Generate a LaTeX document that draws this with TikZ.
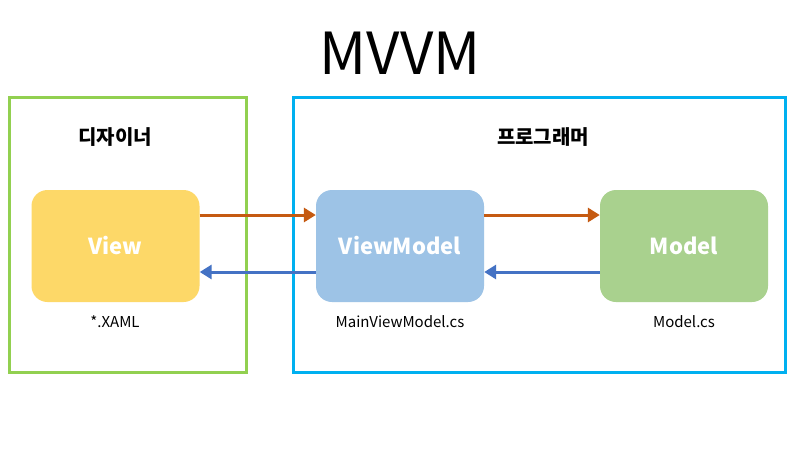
\documentclass[tikz,border=0pt]{standalone}
\usepackage{fontspec}
\setmainfont{Noto Sans CJK KR}
\usetikzlibrary{arrows.meta}
\definecolor{viewc}{HTML}{FDD868}
\definecolor{vmc}{HTML}{9DC3E6}
\definecolor{modc}{HTML}{A9D18E}
\definecolor{arrO}{HTML}{C55A11}
\definecolor{arrB}{HTML}{4472C4}
\definecolor{frameG}{HTML}{92D050}
\definecolor{frameB}{HTML}{00B0F0}
\tikzset{
  comp/.style={rounded corners=16pt, minimum width=168pt, minimum height=112pt, inner sep=0pt, text=white, font=\fontsize{22}{26}\selectfont\bfseries},
  frame/.style={line width=3pt},
  role/.style={font=\fontsize{20}{24}\selectfont\bfseries},
  file/.style={font=\fontsize{15}{18}\selectfont},
  arrO/.style={draw=arrO, line width=3pt, -{Triangle[length=12pt,width=14pt]}},
  arrB/.style={draw=arrB, line width=3pt, -{Triangle[length=12pt,width=14pt]}}
}
\begin{document}
\begin{tikzpicture}[x=1pt,y=-1pt]
\useasboundingbox[fill=white] (0,0) rectangle (800,450);
\draw[frame, draw=frameG] (9,97) rectangle (246,372);
\draw[frame, draw=frameB] (293,97) rectangle (785,372);
\node[font=\fontsize{58}{62}\selectfont] (title) at (400,53) {MVVM};
\node[role] (des) at (115,137) {디자이너};
\node[role] (prog) at (543,137) {프로그래머};
\node[comp, fill=viewc] (view) at (115.5,246) {View};
\node[comp, fill=vmc] (vm) at (400,246) {ViewModel};
\node[comp, fill=modc] (model) at (684,246) {Model};
\node[file] (f1) at (115,322) {*.XAML};
\node[file] (f2) at (400,322) {MainViewModel.cs};
\node[file] (f3) at (684,322) {Model.cs};
\draw[arrO] (view.east |- 0,215) -- (vm.west |- 0,215);
\draw[arrO] (vm.east |- 0,215) -- (model.west |- 0,215);
\draw[arrB] (vm.west |- 0,272) -- (view.east |- 0,272);
\draw[arrB] (model.west |- 0,272) -- (vm.east |- 0,272);
\end{tikzpicture}
\end{document}
